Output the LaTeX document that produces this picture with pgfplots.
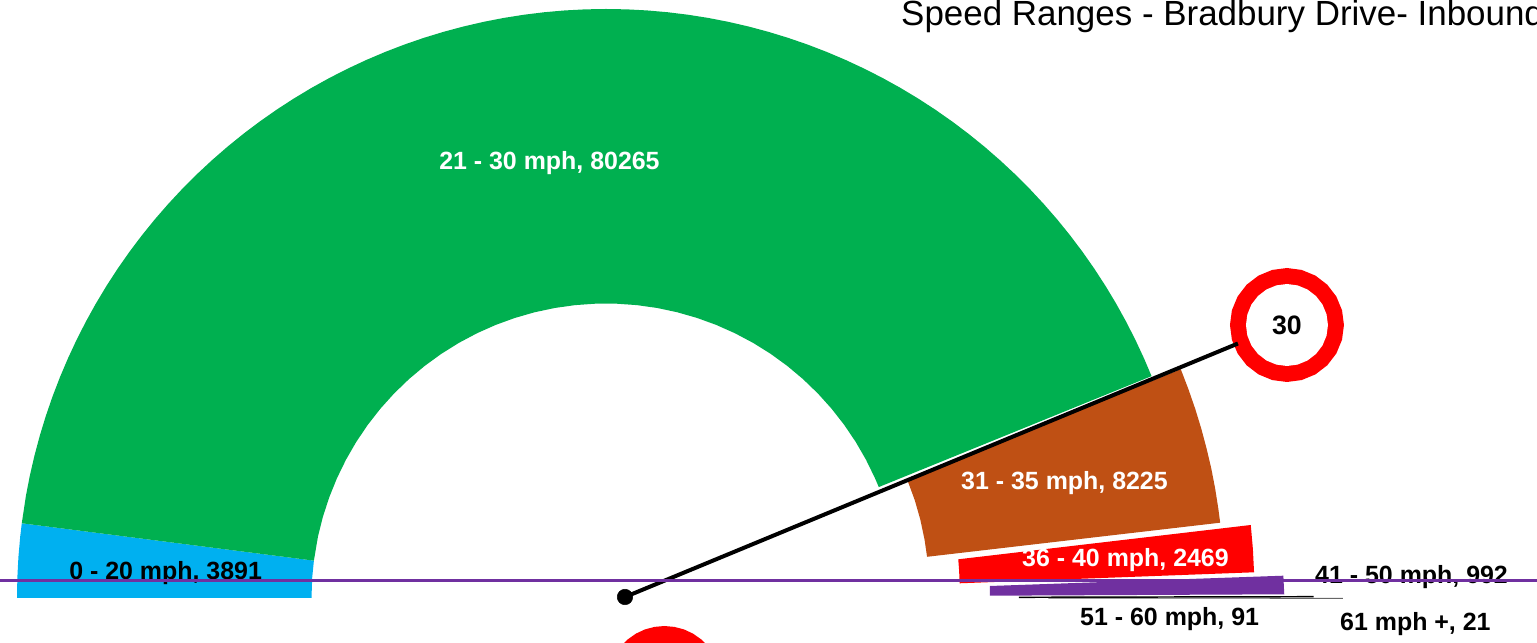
\documentclass[border=0pt]{standalone}
\usepackage{fontspec}
\usepackage{pgfplots}
\pgfplotsset{compat=1.18}
\usepgfplotslibrary{polar}
\setmainfont{Liberation Sans}
\definecolor{sgreen}{HTML}{00B050}
\definecolor{sblue}{HTML}{00B0F0}
\definecolor{sbrown}{HTML}{BF5014}
\definecolor{spurple}{HTML}{7030A0}
% 1 px of the reference = 0.75pt, origin of the axis = centre of the doughnut
\newcommand{\lab}{\fontsize{18.7}{22}\selectfont\bfseries}
\begin{document}
\begin{tikzpicture}[lbl/.style={anchor=base west, inner sep=0pt}]
\path[use as bounding box] (0,0) rectangle (1152.75pt,481.5pt);
\begin{axis}[
  at={(0,0)}, anchor=south west,
  scale only axis, width=1152.75pt, height=481.5pt,
  xmin=-606, xmax=931, ymin=-44, ymax=598,
  hide axis,
]
% 0 - 20 mph
\addplot[fill=sblue, draw=none, data cs=polar] coordinates {
  (180,589) (178,589) (176,589) (174,589) (172.71,589)
  (172.71,294.5) (176,294.5) (180,294.5)
};
% 21 - 30 mph
\addplot[fill=sgreen, draw=none, data cs=polar] coordinates {
  (172.71,589) (170,589) (168,589) (166,589) (164,589) (162,589) (160,589) (158,589)
  (156,589) (154,589) (152,589) (150,589) (148,589) (146,589) (144,589) (142,589)
  (140,589) (138,589) (136,589) (134,589) (132,589) (130,589) (128,589) (126,589)
  (124,589) (122,589) (120,589) (118,589) (116,589) (114,589) (112,589) (110,589)
  (108,589) (106,589) (104,589) (102,589) (100,589) (98,589) (96,589) (94,589)
  (92,589) (90,589) (88,589) (86,589) (84,589) (82,589) (80,589) (78,589)
  (76,589) (74,589) (72,589) (70,589) (68,589) (66,589) (64,589) (62,589)
  (60,589) (58,589) (56,589) (54,589) (52,589) (50,589) (48,589) (46,589)
  (44,589) (42,589) (40,589) (38,589) (36,589) (34,589) (32,589) (30,589)
  (28,589) (26,589) (24,589) (22.13,589)
  (22.13,294.5) (24,294.5) (28,294.5) (32,294.5) (36,294.5) (40,294.5) (44,294.5)
  (48,294.5) (52,294.5) (56,294.5) (60,294.5) (64,294.5) (68,294.5) (72,294.5)
  (76,294.5) (80,294.5) (84,294.5) (88,294.5) (92,294.5) (96,294.5) (100,294.5)
  (104,294.5) (108,294.5) (112,294.5) (116,294.5) (120,294.5) (124,294.5) (128,294.5)
  (132,294.5) (136,294.5) (140,294.5) (144,294.5) (148,294.5) (152,294.5) (156,294.5)
  (160,294.5) (164,294.5) (168,294.5) (172.71,294.5)
};
% 31 - 35 mph, pulled out of the ring
\addplot[fill=sbrown, draw=none] coordinates {
  (574.8,228.8) (582.6,208.4) (589.3,189.0) (595.3,169.4) (600.6,149.5) (605.3,129.6)
  (609.2,109.4) (612.4,89.1) (614.2,75.3)
  (321.1,41.2) (318.6,58.2) (314.4,78.2) (308.8,97.8) (301.5,117.7)
};
% 36 - 40 mph
\addplot[fill=red, draw=none] coordinates {
  (644.8,73) (646.9,49.4) (648.1,25.7) (353.6,14.7) (353.2,26.7) (352.3,38.7)
};
% 41 - 50 mph
\addplot[fill=spurple, draw=none] coordinates {
  (677.4,22.3) (678.3,3.7) (383.8,2.3) (383.8,12)
};
% 51 - 60 mph and 61 mph +
\addplot[black, line width=1.1pt] coordinates {(413,0.7) (707.6,1.3)};
\addplot[black!60, line width=0.6pt] coordinates {(442.4,-0.2) (737,-0.4)};
% limit ring, right
\addplot[fill=red, draw=none] coordinates {
  (738,273) (736.06,287.75) (730.36,301.5) (721.31,313.31) (709.5,322.36) (695.75,328.06)
  (681,330) (666.25,328.06) (652.5,322.36) (640.69,313.31) (631.64,301.5) (625.94,287.75)
  (624,273) (625.94,258.25) (631.64,244.5) (640.69,232.69) (652.5,223.64) (666.25,217.94)
  (681,216) (695.75,217.94) (709.5,223.64) (721.31,232.69) (730.36,244.5) (736.06,258.25)
};
\addplot[fill=white, draw=none] coordinates {
  (722,273) (720.6,283.61) (716.51,293.5) (709.99,301.99) (701.5,308.51) (691.61,312.6)
  (681,314) (670.39,312.6) (660.5,308.51) (652.01,301.99) (645.49,293.5) (641.4,283.61)
  (640,273) (641.4,262.39) (645.49,252.5) (652.01,244.01) (660.5,237.49) (670.39,233.4)
  (681,232) (691.61,233.4) (701.5,237.49) (709.99,244.01) (716.51,252.5) (720.6,262.39)
};
% second ring, only its top is on the page
\addplot[fill=red, draw=none] coordinates {
  (107.9,-56.5) (102.2,-48.4) (95.1,-41.3) (87,-35.6) (78,-31.4) (68.4,-28.9) (58.5,-28)
  (48.6,-28.9) (39,-31.4) (30,-35.6) (21.9,-41.3) (14.8,-48.4) (9.1,-56.5)
};
% needle
\addplot[black, line width=3pt] coordinates {(19,1) (632,254.5)};
\addplot[only marks, mark=*, mark size=5.8pt, mark options={black}] coordinates {(19,1)};
% labels
\node[lbl, white] at (axis cs:-167,428.3) {\lab 21 - 30 mph, 80265};
\node[lbl, white] at (axis cs:355,108.3) {\lab 31 - 35 mph, 8225};
\node[lbl, white] at (axis cs:416,31.3) {\lab 36 - 40 mph, 2469};
\node[lbl] at (axis cs:-537,18.3) {\lab 0 - 20 mph, 3891};
\node[lbl] at (axis cs:709,14.3) {\lab 41 - 50 mph, 992};
\node[lbl] at (axis cs:474,-27.7) {\lab 51 - 60 mph, 91};
\node[lbl] at (axis cs:734,-32.7) {\lab 61 mph +, 21};
\node[anchor=center, inner sep=0pt] at (axis cs:681,273) {\fontsize{20}{24}\selectfont\bfseries 30};
\node[lbl] at (axis cs:295,572) {\fontsize{26.2}{30}\selectfont Speed Ranges - Bradbury Drive- Inbound};
% the purple rule runs over everything
\addplot[spurple, line width=2pt] coordinates {(-606,17.7) (931,17.7)};
\end{axis}
\end{tikzpicture}
\end{document}
